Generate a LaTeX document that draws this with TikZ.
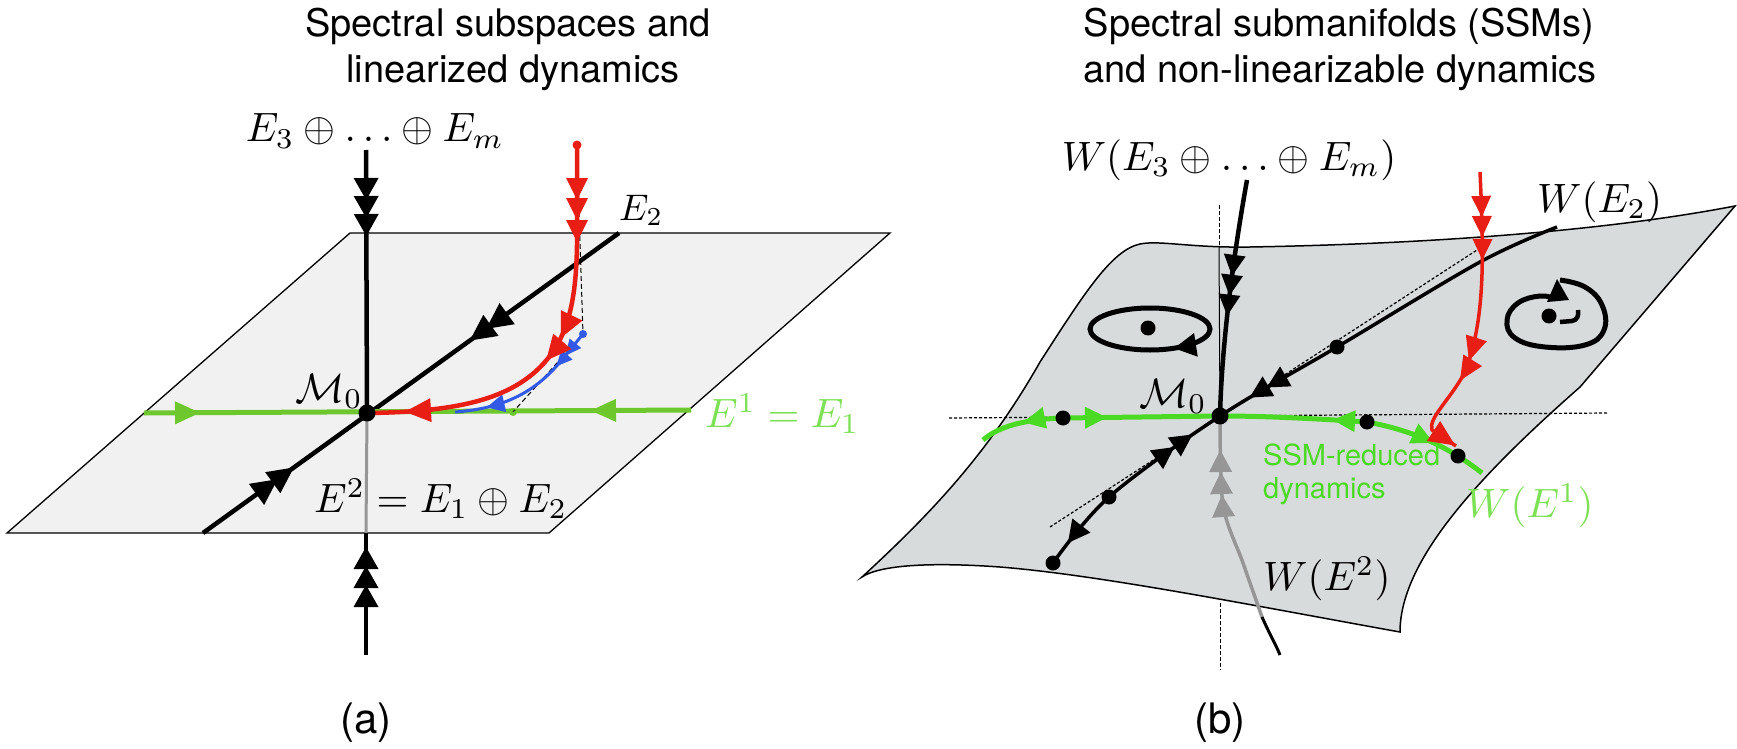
\documentclass[tikz,border=0pt]{standalone}
\usepackage{graphicx}
\usepackage{fontspec}
\newfontfamily\hv{TeX Gyre Heros}
\usetikzlibrary{decorations.markings}
\definecolor{planeA}{RGB}{241,241,241}
\definecolor{surfB}{RGB}{216,219,219}
\definecolor{grnA}{RGB}{110,200,45}
\definecolor{grnLab}{RGB}{125,225,85}
\definecolor{grnB}{RGB}{75,218,35}
\definecolor{redT}{RGB}{232,30,20}
\definecolor{bluT}{RGB}{50,90,230}
\definecolor{grayT}{RGB}{150,150,150}
\newcommand\hd[3]{\fill[#1] (0pt,0pt) -- (-#2,#3) -- (-#2,-#3) -- cycle;}
\newcommand\hdr[3]{\fill[#1] (0pt,0pt) -- (#2,#3) -- (#2,-#3) -- cycle;}
\newcommand\mth[2]{\scalebox{#1}{$#2$}}
\tikzset{
  arr/.style={postaction={decorate,decoration={markings,#1}}},
  math/.style={inner sep=0pt},
  ttl/.style={font=\hv\fontsize{38}{46}\selectfont, inner sep=0pt},
  plab/.style={font=\hv\fontsize{42}{50}\selectfont, inner sep=0pt},
  ssm/.style={font=\hv\fontsize{29}{34}\selectfont, inner sep=0pt, text=grnB},
  thickk/.style={line width=4.5pt},
  refdot/.style={line width=1.2pt, dash pattern=on 3pt off 2pt},
}
\begin{document}
\begin{tikzpicture}[x=1pt,y=-1pt]
\useasboundingbox (0,0) rectangle (1737,749);

% ---------- titles
\node[ttl, anchor=base] (ta1) at (508,37) {Spectral subspaces and};
\node[ttl, anchor=base] (ta2) at (513,83) {linearized dynamics};
\node[ttl, anchor=base] (tb1) at (1339,37) {Spectral submanifolds (SSMs)};
\node[ttl, anchor=base] (tb2) at (1340,83) {and non-linearizable dynamics};

% ================= panel (a)
\coordinate (M0a) at (367,413);
\filldraw[fill=planeA, draw=black, line width=1.3pt] (7,533) -- (549,533) -- (890,233) -- (350,233) -- cycle;

% vertical axis
\draw[grayT, line width=3pt] (M0a) -- (366,533);
\draw[thickk, arr={mark=at position 70pt with {\hd{black}{22pt}{12.5pt}},
  mark=at position 89pt with {\hd{black}{22pt}{12.5pt}},
  mark=at position 108pt with {\hd{black}{22pt}{12.5pt}}}] (366,655) -- (366,533);
\draw[thickk, arr={mark=at position 50pt with {\hd{black}{22pt}{12.5pt}},
  mark=at position 68pt with {\hd{black}{22pt}{12.5pt}},
  mark=at position 86pt with {\hd{black}{22pt}{12.5pt}}}] (366,150) -- (M0a);

% E2 line
\draw[thickk, arr={mark=at position 92pt with {\hd{black}{26pt}{13pt}},
  mark=at position 112pt with {\hd{black}{26pt}{13pt}},
  mark=at position 329pt with {\hdr{black}{26pt}{13pt}},
  mark=at position 349pt with {\hdr{black}{26pt}{13pt}}}] (203,533) -- (619,233);

% green E1
\draw[grnA, line width=5pt, arr={mark=at position 56pt with {\hd{grnA}{25pt}{11.5pt}},
  mark=at position 447pt with {\hdr{grnA}{25pt}{11.5pt}}}] (144,413) -- (691,410);
\fill[grnA] (513,412) circle (4pt);

% dashed projections
\draw[line width=1pt, dash pattern=on 5pt off 3pt] (577,148) -- (583,334) -- (513,412);

% blue trajectory
\draw[bluT, line width=3pt, arr={mark=at position 28pt with {\hd{bluT}{16pt}{7.5pt}},
  mark=at position 42pt with {\hd{bluT}{16pt}{7.5pt}},
  mark=at position -32pt with {\hd{bluT}{18pt}{9pt}}}] (583,334) -- (565,356) .. controls (540,388) and (510,408) .. (455,412);
\fill[bluT] (583,334) circle (4pt);

% red trajectory
\draw[redT, line width=4.5pt, arr={mark=at position 55pt with {\hd{redT}{22pt}{11pt}},
  mark=at position 75pt with {\hd{redT}{22pt}{11pt}},
  mark=at position 97pt with {\hd{redT}{22pt}{11pt}},
  mark=at position 195pt with {\hd{redT}{25pt}{12pt}},
  mark=at position 222pt with {\hd{redT}{25pt}{12pt}},
  mark=at position -38pt with {\hd{redT}{26pt}{12pt}}}]
  (577,145) -- (577,245) .. controls (576,310) and (565,345) .. (535,372) .. controls (505,398) and (460,412) .. (M0a);
\fill[redT] (577,145) circle (4.5pt);

\fill (M0a) circle (8.5pt);

% labels (a)
\node[math, anchor=base] (la1) at (375,142) {\mth{4.1}{E_3\oplus\ldots\oplus E_m}};
\node[math, anchor=base west] (la2) at (619,220) {\mth{3.7}{E_2}};
\node[math, anchor=base east] (la3) at (363,402) {\mth{4.1}{\mathcal{M}_0}};
\node[math, anchor=base west, text=grnLab] (la4) at (705,427) {\mth{4.1}{E^1=E_1}};
\node[math, anchor=base west] (la5) at (314,512) {\mth{4.1}{E^2=E_1\oplus E_2}};
\node[plab, anchor=base] (la6) at (366,733) {(a)};

% ================= panel (b)
\coordinate (M0b) at (1220,416);
\filldraw[fill=surfB, draw=black, line width=1.5pt]
 (862,577) .. controls (935,510) and (990,450) .. (1040,362)
 .. controls (1085,292) and (1112,250) .. (1140,244)
 .. controls (1160,240) and (1190,248) .. (1250,247)
 .. controls (1420,244) and (1600,232) .. (1735,206)
 -- (1580,387)
 .. controls (1480,475) and (1400,560) .. (1400,632)
 .. controls (1250,605) and (1100,575) .. (1000,567)
 .. controls (930,562) and (880,565) .. (862,577) -- cycle;

% reference lines
\draw[refdot] (949,418) -- (1608,413);
\draw[refdot] (1050,527) -- (1477,250);
\draw[line width=1pt, dash pattern=on 4pt off 2pt] (1219,205) -- (1219,246);
\draw[line width=1pt] (1219,246) -- (M0b);
\draw[line width=1pt, dash pattern=on 4pt off 2pt] (1220,603) -- (1220,670);

% closed orbit and spiral
\draw[line width=5pt, arr={mark=at position 0.84 with {\hdr{black}{22pt}{12pt}}}] (1150,329) ellipse [x radius=60pt, y radius=21pt];
\fill (1148,328) circle (7.5pt);
\draw[line width=5pt]
  plot[smooth, tension=0.7] coordinates {(1560,280) (1585,287) (1602,305) (1604,330) (1585,345) (1545,347) (1515,338) (1507,320) (1518,303) (1540,296) (1556,299)};
\fill (1557,279) -- (1547,302) -- (1569,300) -- cycle;
\draw[line width=4.5pt] (1560,322) -- (1572,321) .. controls (1577,320) and (1579,316) .. (1578,310);
\fill (1549,316) circle (7.5pt);

% W(E2)
\draw[line width=3.5pt, arr={mark=at position 332pt with {\hd{black}{22pt}{11.5pt}},
  mark=at position 352pt with {\hd{black}{22pt}{11.5pt}},
  mark=at position 420pt with {\hdr{black}{22pt}{11.5pt}},
  mark=at position 442pt with {\hdr{black}{22pt}{11.5pt}},
  mark=at position -25pt with {\hd{black}{22pt}{11.5pt}}}]
  plot[smooth, tension=0.55] coordinates {(1557,227) (1480,262) (1337,347) (M0b) (1109,497) (1053,563)};

% W(E3+...+Em)
\draw[thickk, arr={mark=at position 97pt with {\hd{black}{21pt}{11pt}},
  mark=at position 117pt with {\hd{black}{21pt}{11pt}},
  mark=at position 137pt with {\hd{black}{21pt}{11pt}}}]
  (1247,180) .. controls (1238,230) and (1222,330) .. (M0b);

% W(E^2)
\draw[grayT, line width=3.5pt, arr={mark=at position -34pt with {\hd{grayT}{22pt}{11.5pt}},
  mark=at position -56pt with {\hd{grayT}{22pt}{11.5pt}},
  mark=at position -79pt with {\hd{grayT}{22pt}{11.5pt}}}]
  plot[smooth] coordinates {(1262,617) (1243,563) (1223,505) (M0b)};
\draw[line width=3pt] (1262,617) .. controls (1270,635) and (1276,645) .. (1280,655);

% green W(E^1)
\draw[grnB, line width=5pt, arr={mark=at position 44pt with {\hd{grnB}{22pt}{11pt}}}] (1063,418) -- (M0b);
\draw[grnB, line width=5pt, arr={mark=at position 40pt with {\hd{grnB}{22pt}{11pt}}}] (1063,418) .. controls (1030,419) and (1000,425) .. (983,440);
\draw[grnB, line width=5pt, arr={mark=at position 34pt with {\hd{grnB}{22pt}{11pt}}}] (1367,422) .. controls (1320,419) and (1270,416) .. (M0b);
\draw[grnB, line width=5pt, arr={mark=at position 70pt with {\hd{grnB}{22pt}{11pt}}}] (1367,422) .. controls (1400,428) and (1440,440) .. (1482,473);

% red trajectory (b)
\draw[redT, line width=3.5pt, arr={mark=at position 45pt with {\hd{redT}{21pt}{10pt}},
  mark=at position 65pt with {\hd{redT}{21pt}{10pt}},
  mark=at position 88pt with {\hd{redT}{21pt}{10pt}},
  mark=at position 190pt with {\hd{redT}{24pt}{11pt}},
  mark=at position 212pt with {\hd{redT}{24pt}{11pt}},
  mark=at position -1pt with {\hd{redT}{26pt}{12pt}}}]
  (1480,172) .. controls (1484,260) and (1485,320) .. (1465,372) .. controls (1450,400) and (1428,418) .. (1432,430) -- (1456,446);

% dots
\foreach \p in {(1063,418),(1367,422),(1458,456),(1337,347),(1109,497),(1053,563)} \fill \p circle (7.5pt);
\fill (M0b) circle (8.5pt);

% labels (b)
\node[math, anchor=base] (lb1) at (1229,170) {\mth{4.1}{W(E_3\oplus\ldots\oplus E_m)}};
\node[math, anchor=base west] (lb2) at (1537,212) {\mth{4.1}{W(E_2)}};
\node[math, anchor=base east] (lb3) at (1207,407) {\mth{4.1}{\mathcal{M}_0}};
\node[math, anchor=base west, text=grnLab] (lb4) at (1466,517) {\mth{4.1}{W(E^1)}};
\node[math, anchor=base west] (lb5) at (1263,590) {\mth{4.1}{W(E^2)}};
\node[ssm, anchor=base west] (lb6) at (1263,465) {SSM-reduced};
\node[ssm, anchor=base west] (lb7) at (1263,498) {dynamics};
\node[plab, anchor=base] (lb8) at (1220,733) {(b)};
\end{tikzpicture}
\end{document}
